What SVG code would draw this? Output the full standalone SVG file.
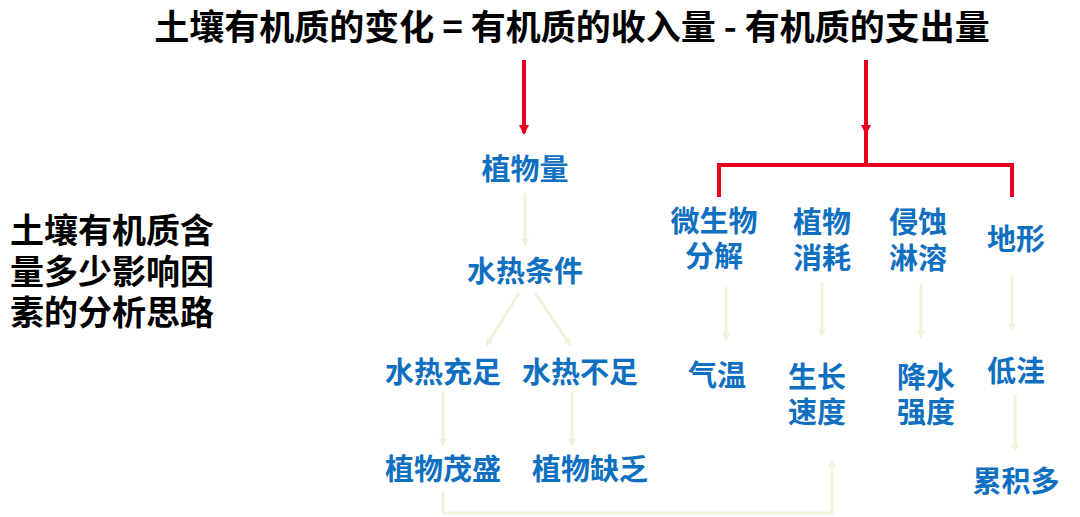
<svg xmlns="http://www.w3.org/2000/svg" width="1080" height="517" viewBox="0 0 1080 517">
<style>
.t{font-family:"Noto Sans CJK SC","Liberation Sans",sans-serif;font-weight:bold}
.b{fill:#0f6fc0;font-size:29px;text-anchor:middle}
.f{stroke:#eef3dc;stroke-width:3;fill:none}
.r{stroke:#e8001c;stroke-width:4;fill:none}
</style>
<defs>
<marker id="af" markerWidth="8" markerHeight="8" refX="4" refY="4" orient="auto" markerUnits="userSpaceOnUse"><path d="M0,0L8,4L0,8z" fill="#eef3dc"/></marker>
<marker id="ar" markerWidth="10" markerHeight="10" refX="8" refY="5" orient="auto" markerUnits="userSpaceOnUse"><path d="M0,0L10,5L0,10z" fill="#e8001c"/></marker>
</defs>
<rect width="1080" height="517" fill="#fff"/>
<g id="title"><text class="t" x="572" y="40" font-size="35" text-anchor="middle" fill="#000">土壤有机质的变化 = 有机质的收入量 - 有机质的支出量</text></g>
<g id="left"><text class="t" font-size="34" fill="#000"><tspan x="10" y="243">土壤有机质含</tspan><tspan x="10" y="284">量多少影响因</tspan><tspan x="10" y="325">素的分析思路</tspan></text></g>
<g id="connectors">
<path class="r" d="M524,60V133" marker-end="url(#ar)"/>
<path class="r" d="M866,60V133" marker-end="url(#ar)"/>
<path class="r" d="M866,133V165M719,197V165H1012V197"/>
<path class="f" d="M525,193V243" marker-end="url(#af)"/>
<path class="f" d="M519,293L488,343" marker-end="url(#af)"/>
<path class="f" d="M535,293L569,343" marker-end="url(#af)"/>
<path class="f" d="M443,392V443" marker-end="url(#af)"/>
<path class="f" d="M572,392V443" marker-end="url(#af)"/>
<path class="f" d="M443,492V513H832V463" marker-end="url(#af)"/>
<path class="f" d="M726,287V337" marker-end="url(#af)"/>
<path class="f" d="M822,282V333" marker-end="url(#af)"/>
<path class="f" d="M921,284V335" marker-end="url(#af)"/>
<path class="f" d="M1012,275V328" marker-end="url(#af)"/>
<path class="f" d="M1015,395V448" marker-end="url(#af)"/>
</g>
<g id="n1"><text class="t b" x="525" y="180">植物量</text></g>
<g id="n2"><text class="t b" x="525" y="282">水热条件</text></g>
<g id="n3"><text class="t b" x="443" y="383">水热充足</text></g>
<g id="n4"><text class="t b" x="580" y="383">水热不足</text></g>
<g id="n5"><text class="t b" x="443" y="480">植物茂盛</text></g>
<g id="n6"><text class="t b" x="590" y="480">植物缺乏</text></g>
<g id="n7"><text class="t b"><tspan x="714" y="232">微生物</tspan><tspan x="714" y="267">分解</tspan></text></g>
<g id="n8"><text class="t b"><tspan x="822" y="233">植物</tspan><tspan x="822" y="269">消耗</tspan></text></g>
<g id="n9"><text class="t b"><tspan x="918" y="233">侵蚀</tspan><tspan x="918" y="269">淋溶</tspan></text></g>
<g id="n10"><text class="t b" x="1016" y="250">地形</text></g>
<g id="n11"><text class="t b" x="717" y="386">气温</text></g>
<g id="n12"><text class="t b"><tspan x="817" y="388">生长</tspan><tspan x="817" y="423">速度</tspan></text></g>
<g id="n13"><text class="t b"><tspan x="926" y="388">降水</tspan><tspan x="926" y="423">强度</tspan></text></g>
<g id="n14"><text class="t b" x="1016" y="382">低洼</text></g>
<g id="n15"><text class="t b" x="1016" y="492">累积多</text></g>
</svg>
